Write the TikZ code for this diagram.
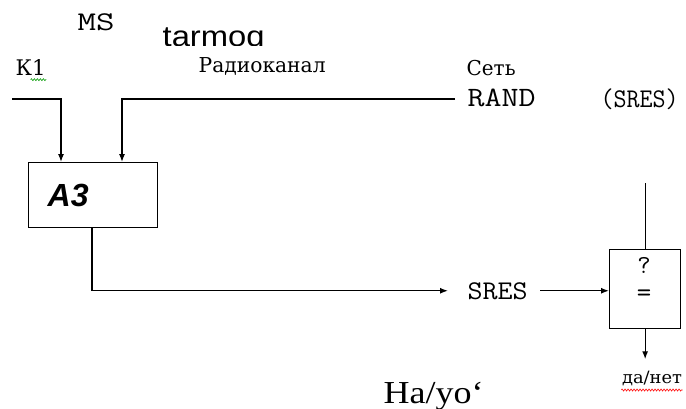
\documentclass[tikz,border=0pt]{standalone}
\usepackage{fontspec}
\setmainfont{Liberation Serif}
\newfontfamily\cyrf{DejaVu Serif}
\newfontfamily\sansf{Liberation Sans}
\usetikzlibrary{arrows.meta,decorations.pathmorphing}
\newcommand\fitw[3]{{\fontsize{#2}{#2}\selectfont\resizebox{#1pt}{\height}{#3}}}
\begin{document}
\begin{tikzpicture}[x=1pt,y=-1pt,line width=1.3pt,
  lbl/.style={inner sep=0pt,anchor=base west,font=\ttfamily},
  clbl/.style={inner sep=0pt,anchor=base west,font=\cyrf},
  arr/.style={-{Latex[length=8pt,width=6pt]}},
  box/.style={draw,inner sep=0pt,anchor=north west},
  squig/.style={line width=0.6pt,decorate,decoration={zigzag,segment length=3pt,amplitude=1pt}}]
\useasboundingbox (0,0) rectangle (686,408);
% labels
\node[lbl] (ms) at (77,30) {\fitw{37}{27}{MS}};
\begin{scope}
  \clip (150,0) rectangle (290,45);
  \node[lbl,font=\sansf] (tq) at (162,46) {\fitw{102}{29}{tarmoq}};
\end{scope}
\node[clbl] (k1) at (15,75) {\fitw{30}{21.5}{К1}};
\node[clbl] (rk) at (198,72) {\fitw{127}{20.5}{Радиоканал}};
\node[clbl] (set) at (466,75) {\fitw{49}{20.5}{Сеть}};
\node[lbl] (rand) at (467,106) {\fitw{68}{28}{RAND}};
\node[lbl] (sresp) at (600,107) {\fitw{78}{27}{(SRES)}};
% boxes
\node[box,minimum width=129pt,minimum height=65pt] (a3) at (28,162) {};
\node[lbl,font=\sansf\bfseries\itshape] (a3t) at (47,206) {\fitw{41}{32}{A3}};
\node[lbl] (sres) at (467,299) {\fitw{60}{27}{SRES}};
\node[box,minimum width=71pt,minimum height=79pt] (cmp) at (609,249) {};
\node[lbl,anchor=base] (q) at (644,273) {\fontsize{26}{26}\selectfont ?};
\node[inner sep=0pt,font=\ttfamily] (eq) at (644,296) {\fontsize{28}{28}\selectfont =};
\node[clbl,anchor=base] (yn) at (652,383) {\fitw{60}{17}{да/нет}};
\node[lbl,font=\rmfamily] (hayo) at (383,403) {\fitw{100}{32}{Ha/yo‘}};
% connectors
\coordinate (k1s) at (12,99);
\coordinate (nets) at (455,99);
\coordinate (top) at (644,183);
\draw[arr] (k1s) -| ([xshift=33pt]a3.north west);
\draw[arr] (nets) -| ([xshift=94pt]a3.north west);
\draw[arr] ([xshift=64pt]a3.south west) |- ([xshift=-19pt]sres.west);
\draw[arr] ([xshift=12pt]sres.east) -- (cmp.west |- sres.east);
\draw (cmp.north |- top) -- (cmp.north);
\draw[arr] (cmp.south) -- ++(0,30);
% spell-check marks
\draw[squig,green!60!black] ([yshift=-4pt]k1.south) -- ([yshift=-4pt]k1.south east);
\draw[squig,red] ([yshift=-4pt]yn.south west) -- ([yshift=-4pt]yn.south east);
\end{tikzpicture}
\end{document}
